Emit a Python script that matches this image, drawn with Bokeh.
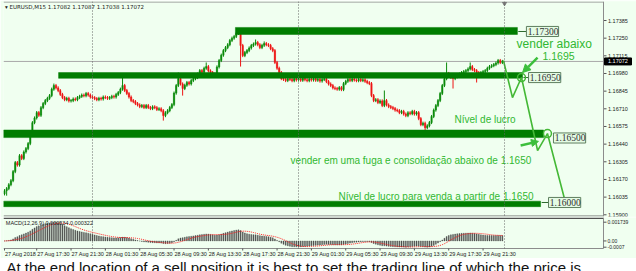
import numpy as np
from bokeh.plotting import figure
from bokeh.layouts import column
from bokeh.models import ColumnDataSource, Range1d, Span, Arrow, NormalHead
from bokeh.embed import file_html
from bokeh.resources import INLINE
from bokeh.core.properties import value

# ---------------- data ----------------
closes = [
    1.16084, 1.16100, 1.16130, 1.16161, 1.16230, 1.16299, 1.16280, 1.16352, 1.16330, 1.16380,
    1.16406, 1.16444, 1.16520, 1.16604, 1.16640, 1.16681, 1.16660, 1.16719, 1.16750, 1.16773,
    1.16790, 1.16811, 1.16860, 1.16888, 1.16870, 1.16849, 1.16820, 1.16796, 1.16780, 1.16790,
    1.16770, 1.16773, 1.16785, 1.16780, 1.16796, 1.16805, 1.16815, 1.16810, 1.16827, 1.16815,
    1.16800, 1.16795, 1.16788, 1.16780, 1.16790, 1.16785, 1.16800, 1.16796, 1.16790, 1.16796,
    1.16805, 1.16800, 1.16820, 1.16834, 1.16860, 1.16888, 1.16850, 1.16827, 1.16800, 1.16773,
    1.16765, 1.16750, 1.16740, 1.16727, 1.16735, 1.16720, 1.16735, 1.16720, 1.16712, 1.16725,
    1.16719, 1.16705, 1.16710, 1.16696, 1.16658, 1.16680, 1.16696, 1.16720, 1.16742, 1.16830,
    1.16888, 1.16941, 1.16900, 1.16865, 1.16890, 1.16911, 1.16900, 1.16926, 1.16940, 1.16949,
    1.16975, 1.17002, 1.16990, 1.17020, 1.17033, 1.17000, 1.16987, 1.16975, 1.16972, 1.17030,
    1.17079, 1.17120, 1.17155, 1.17178, 1.17200, 1.17232, 1.17250, 1.17263, 1.17286, 1.17290,
    1.17194, 1.17117, 1.17140, 1.17155, 1.17175, 1.17194, 1.17205, 1.17217, 1.17200, 1.17178,
    1.17195, 1.17209, 1.17200, 1.17194, 1.17170, 1.17155, 1.17064, 1.17020, 1.16987, 1.16941,
    1.16935, 1.16926, 1.16940, 1.16934, 1.16925, 1.16940, 1.16930, 1.16938, 1.16928, 1.16942,
    1.16932, 1.16925, 1.16936, 1.16930, 1.16940, 1.16928, 1.16935, 1.16922, 1.16934, 1.16940,
    1.16918, 1.16900, 1.16888, 1.16870, 1.16865, 1.16860, 1.16872, 1.16857, 1.16903, 1.16920,
    1.16934, 1.16926, 1.16938, 1.16930, 1.16925, 1.16936, 1.16926, 1.16932, 1.16920, 1.16910,
    1.16903, 1.16811, 1.16773, 1.16780, 1.16758, 1.16770, 1.16735, 1.16773, 1.16740, 1.16727,
    1.16720, 1.16712, 1.16700, 1.16696, 1.16681, 1.16690, 1.16670, 1.16658, 1.16680, 1.16673,
    1.16690, 1.16670, 1.16681, 1.16635, 1.16589, 1.16600, 1.16566, 1.16580, 1.16605, 1.16651,
    1.16700, 1.16735, 1.16773, 1.16827, 1.16888, 1.16940, 1.16980, 1.16964, 1.16950, 1.16941,
    1.16955, 1.16964, 1.16975, 1.16987, 1.16995, 1.17002, 1.17015, 1.17033, 1.17010, 1.17002,
    1.16987, 1.16980, 1.16987, 1.16995, 1.17002, 1.17020, 1.17033, 1.17040, 1.17048, 1.17060,
    1.17079, 1.17064, 1.17072,
]
first_open = 1.16060
spike_high = {23: 1.16903, 55: 1.16949, 81: 1.16987, 94: 1.17064, 109: 1.17316, 117: 1.17240,
              121: 1.17225, 177: 1.16850, 206: 1.17064, 217: 1.17064}
spike_low = {1: 1.16046, 74: 1.16620, 83: 1.16811, 110: 1.17033, 196: 1.16536, 209: 1.16865,
             220: 1.16911}
wick = 0.00012

price_ticks = [1.17385, 1.17250, 1.17115, 1.16980, 1.16845, 1.16710,
               1.16575, 1.16440, 1.16305, 1.16170, 1.16035, 1.15900]
current_price = 1.17072

time_ticks = [0, 15, 31, 47, 63, 79, 95, 111, 127, 143, 159, 175, 191, 207, 223]
time_labels = ["27 Aug 2018", "27 Aug 17:30", "27 Aug 21:30", "28 Aug 01:30", "28 Aug 05:30",
               "28 Aug 09:30", "28 Aug 13:30", "28 Aug 17:30", "28 Aug 21:30", "29 Aug 01:30",
               "29 Aug 05:30", "29 Aug 09:30", "29 Aug 13:30", "29 Aug 17:30", "29 Aug 21:30"]
day_separators = [41, 137, 233]

# drawn objects: level bars
bar_left = [107.6, 25.2, -0.5, -0.5]
bar_right = [239.0, 241.4, 251.2, 249.8]
bar_mid = [1.17305, 1.16965, 1.16519, 1.15983]
bar_half = [0.00027, 0.00022, 0.00029, 0.00021]

lvl_text = ["1.17300", "1.16950", "1.16500", "1.16000"]
lvl_box_x = [243.2, 244.2, 255.8, 253.5]
lvl_box_y = [1.17301, 1.16949, 1.16487, 1.15994]
lvl_dash_x0 = [239.4, 241.8, None, 250.3]
lvl_dash_x1 = [243.0, 244.0, None, 253.3]

ann_text = ["vender abaixo", "1.1695", "Nível de lucro",
            "vender em uma fuga e consolidação abaixo de 1.1650",
            "Nível de lucro para venda a partir de 1.1650"]
ann_x = [238.6, 250.7, 209.7, 133.3, 155.6]
ann_y = [1.17202, 1.17117, 1.16628, 1.16315, 1.16036]
ann_size = ["12px", "10.5px", "10px", "10px", "10px"]

zig_x = [232.5, 236.7, 240.9, 248.4, 253.0, 261.4]
zig_y = [1.17079, 1.16796, 1.16949, 1.16391, 1.16521, 1.15994]
circle_x = [240.9, 253.0]
circle_y = [1.16949, 1.16521]

arrow1 = (248.4, 1.17102, 241.4, 1.16987)
arrow2 = (240.5, 1.16430, 248.8, 1.16461)

macd_tick_labels = ["0.001739", "0.00", "-0.0007"]

header = "▾ EURUSD,M15  1.17082 1.17087 1.17038 1.17072"
macd_title = "MACD(12,26,9) 0.000534 0.000322"
bottom_text = "At the end location of a sell position it is best to set the trading line of which the price is"

# ---------------- derived ----------------
n = len(closes)
idx = list(range(n))
opens = [first_open] + closes[:-1]
highs, lows, tops, bottoms, colors = [], [], [], [], []
for i in idx:
    o, c = opens[i], closes[i]
    highs.append(spike_high.get(i, max(o, c) + wick))
    lows.append(spike_low.get(i, min(o, c) - wick))
    tops.append(max(o, c))
    bottoms.append(min(o, c))
    colors.append("#0a8a0a" if c >= o else "#ee1515")

cl = np.array(closes)
def ema(v, span):
    k = 2.0 / (span + 1)
    out = np.empty_like(v)
    out[0] = v[0]
    for j in range(1, len(v)):
        out[j] = out[j - 1] + k * (v[j] - out[j - 1])
    return out
macd = ema(cl, 12) - ema(cl, 26)
signal = np.array([macd[max(0, j - 8):j + 1].mean() for j in range(n)])

GREEN_TXT = "#30b830"
BAR_GREEN = "#007d00"
BG = "#f0fff0"
FONT = value("Liberation Sans")
AX = "#8c8c8c"

# horizontal layout: one bar = 2.146 px; frame spans px 3..636, price axis at px 603
PXB = 2.146
X0 = -0.47
X1 = X0 + 633 / PXB
axis_x = X0 + 600 / PXB
def bx(px):                       # px offset -> bar units
    return px / PXB

# ---------------- main panel ----------------
PPU = 13083.0                     # pixels per price unit
y_top = 1.17385 + 19 / PPU        # frame px 1
y_bot = 1.17385 - 196 / PPU       # frame px 216
p1 = figure(width=636, height=217, x_range=Range1d(X0, X1), y_range=Range1d(y_bot, y_top),
            x_axis_location=None, y_axis_location=None,
            toolbar_location=None, output_backend="svg",
            min_border_left=3, min_border_right=0, min_border_top=1, min_border_bottom=1,
            background_fill_color=BG, border_fill_color=BG, outline_line_color=None)
p1.grid.visible = False

for s in day_separators:
    p1.add_layout(Span(location=s, dimension="height", line_color="#666666",
                       line_dash="1 2", line_width=1))
p1.segment(x0=[X0, X0], y0=[current_price, y_top - 0.5 / PPU],
           x1=[axis_x, axis_x], y1=[current_price, y_top - 0.5 / PPU],
           line_color=["#a8a8a8", AX], line_width=1)
p1.segment(x0=[X0], y0=[y_bot + 0.5 / PPU], x1=[axis_x], y1=[y_bot + 0.5 / PPU],
           line_color="#707070", line_width=1)
p1.add_layout(Span(location=axis_x, dimension="height", line_color=AX, line_width=1))

# price axis ticks + labels
p1.segment(x0=[axis_x] * len(price_ticks), y0=price_ticks,
           x1=[axis_x + bx(3)] * len(price_ticks), y1=price_ticks,
           line_color="#555555", line_width=1)
p1.text(x=[axis_x + bx(4.5)] * len(price_ticks), y=price_ticks,
        text=["%.5f" % t for t in price_ticks], text_font=FONT, text_font_size="5.5px",
        text_color="#222222", text_baseline="middle", text_align="left")
p1.rect(x=[axis_x + bx(14.5)], y=[current_price], width=bx(27), height=7 / PPU,
        fill_color="black", line_color="black")
p1.text(x=[axis_x + bx(4.5)], y=[current_price], text=["%.5f" % current_price],
        text_font=FONT, text_font_size="5.5px", text_color="white",
        text_baseline="middle", text_align="left")

src = ColumnDataSource(dict(i=idx, h=highs, l=lows, top=tops, bottom=bottoms, color=colors))
p1.segment(x0="i", y0="l", x1="i", y1="h", line_color="color", line_width=1, source=src)
p1.vbar(x="i", width=0.62, top="top", bottom="bottom", fill_color="color",
        line_color="color", line_width=0.5, source=src)

# level bars
p1.quad(left=bar_left, right=bar_right,
        top=[m + h for m, h in zip(bar_mid, bar_half)],
        bottom=[m - h for m, h in zip(bar_mid, bar_half)],
        fill_color=BAR_GREEN, line_color=BAR_GREEN, line_width=0.5)
for x0, x1, yv in zip(lvl_dash_x0, lvl_dash_x1, lvl_box_y):
    if x0 is not None:
        p1.segment(x0=[x0], y0=[yv], x1=[x1], y1=[yv], line_color="#2d6a2d", line_width=1)

# zigzag projection
p1.line(zig_x, zig_y, line_color="#44b836", line_width=1.6)
p1.scatter(circle_x, circle_y, marker="circle", size=8, fill_color=None,
           line_color="#44b836", line_width=1.5)

# price label boxes
box_w = 15.0
box_h = 0.00077
p1.rect(x=[b + box_w / 2 for b in lvl_box_x], y=lvl_box_y, width=box_w, height=box_h,
        fill_color="#e4fbe4", line_color="#5f7f5f", line_width=1)
p1.text(x=[b + 0.6 for b in lvl_box_x], y=lvl_box_y, text=lvl_text,
        text_font=value("Liberation Serif"), text_font_size="9.5px", text_color="#303030",
        text_baseline="middle", text_align="left")

# arrows
for (xs, ys, xe, ye), sz in ((arrow1, 8), (arrow2, 7)):
    p1.add_layout(Arrow(end=NormalHead(size=sz, fill_color="#3cbf3c", line_color="#3cbf3c"),
                        x_start=xs, y_start=ys, x_end=xe, y_end=ye,
                        line_color="#3cbf3c", line_width=2.5))

# annotation texts
p1.text(x=ann_x, y=ann_y, text=ann_text, text_font=FONT, text_font_size=ann_size,
        text_color=GREEN_TXT, text_baseline="middle", text_align="left")

# header
p1.text(x=[0.2], y=[1.17492], text=[header], text_font=value("DejaVu Sans"),
        text_font_size="5.5px", text_color="#202020", text_baseline="middle")
p1.scatter([233], [1.17515], marker="inverted_triangle", size=4, color="#777777")

# ---------------- MACD panel (frame px 217..258, includes time-label row) ----------------
m_max = float(macd.max())
m_min = float(macd.min())
pp = (m_max - m_min) / 25.0          # value per pixel
def my(px):                          # page px -> macd value
    return m_max - (px - 221.7) * pp
macd_ticks = [m_max, 0.0, m_min]

p2 = figure(width=636, height=41, x_range=p1.x_range, y_range=Range1d(my(258), my(217)),
            x_axis_location=None, y_axis_location=None,
            toolbar_location=None, output_backend="svg",
            min_border_left=3, min_border_right=0, min_border_top=0, min_border_bottom=0,
            background_fill_color=BG, border_fill_color=BG, outline_line_color=None)
p2.grid.visible = False

# frame lines
p2.segment(x0=[X0, X0], y0=[my(217.8), my(248)], x1=[axis_x, axis_x], y1=[my(217.8), my(248)],
           line_color=["#505050", AX], line_width=[1.6, 1])
p2.segment(x0=[axis_x], y0=[my(217)], x1=[axis_x], y1=[my(248)], line_color=AX, line_width=1)
p2.segment(x0=day_separators, y0=[my(248)] * 3, x1=day_separators, y1=[my(218.5)] * 3,
           line_color="#666666", line_dash="1 2", line_width=1)

p2.vbar(x=idx, width=0.45, top=list(macd), bottom=0, fill_color="#3a3a3a",
        line_color="#3a3a3a", line_width=0.4, alpha=0.85)
p2.line(idx, list(signal), line_color="#ff2020", line_dash="1 1", line_width=1)
p2.text(x=[0.6], y=[my(222)], text=[macd_title], text_font=FONT,
        text_font_size="5.5px", text_color="#202020", text_baseline="middle")

# macd axis
p2.segment(x0=[axis_x] * 3, y0=macd_ticks, x1=[axis_x + bx(3)] * 3, y1=macd_ticks,
           line_color="#555555", line_width=1)
p2.text(x=[axis_x + bx(4)] * 3, y=macd_ticks, text=macd_tick_labels, text_font=FONT,
        text_font_size="5px", text_color="#222222", text_baseline="middle", text_align="left")

# time axis
p2.segment(x0=time_ticks, y0=[my(248)] * len(time_ticks), x1=time_ticks,
           y1=[my(250)] * len(time_ticks), line_color="#555555", line_width=1)
p2.text(x=[t + 0.2 for t in time_ticks], y=[my(253)] * len(time_ticks), text=time_labels,
        text_font=FONT, text_font_size="5.5px", text_color="#222222",
        text_baseline="middle", text_align="left")

# ---------------- bottom text strip ----------------
p3 = figure(width=636, height=13, x_range=Range1d(0, 636), y_range=Range1d(0, 13),
            x_axis_location=None, y_axis_location=None, toolbar_location=None,
            output_backend="svg", min_border=0, background_fill_color="white",
            border_fill_color="white", outline_line_color=None)
p3.grid.visible = False
p3.text(x=[3], y=[13], text=[bottom_text], text_font=FONT, text_font_size="15px",
        text_color="#111111", text_baseline="top", text_align="left")

layout = column(p1, p2, p3, spacing=0)
open("out.html", "w").write(file_html(layout, INLINE))
